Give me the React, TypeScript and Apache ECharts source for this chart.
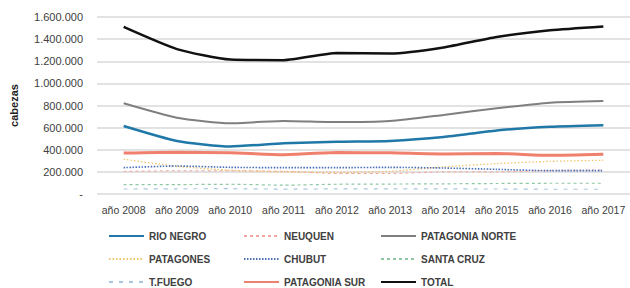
import React, { useEffect, useRef } from "react";
import * as echarts from "echarts";

const categories = ["año 2008", "año 2009", "año 2010", "año 2011", "año 2012", "año 2013", "año 2014", "año 2015", "año 2016", "año 2017"];
const rioNegro = [615000, 480000, 430000, 458000, 473000, 480000, 515000, 575000, 608000, 622000];
const neuquen = [205000, 210000, 210000, 205000, 185000, 185000, 200000, 200000, 212000, 218000];
const patagoniaNorte = [820000, 690000, 640000, 660000, 650000, 660000, 715000, 775000, 825000, 840000];
const patagones = [315000, 250000, 215000, 200000, 195000, 205000, 245000, 275000, 295000, 305000];
const chubut = [238000, 253000, 241000, 238000, 238000, 241000, 235000, 223000, 211000, 211000];
const santaCruz = [85000, 85000, 88000, 80000, 88000, 90000, 92000, 95000, 97000, 97000];
const tFuego = [45000, 47000, 48000, 44000, 46000, 47000, 46000, 45000, 43000, 43000];
const patagoniaSur = [370000, 378000, 372000, 355000, 375000, 372000, 362000, 366000, 350000, 360000];
const total = [1510000, 1310000, 1215000, 1210000, 1275000, 1270000, 1325000, 1420000, 1480000, 1515000];
const yTicks = [0, 200000, 400000, 600000, 800000, 1000000, 1200000, 1400000, 1600000];

const font = "'Liberation Sans', Arial, sans-serif";

function fmt(v: number): string {
  if (v === 0) return "-";
  return String(v).replace(/\B(?=(\d{3})+(?!\d))/g, ".");
}

export default function App() {
  const ref = useRef<HTMLDivElement>(null);
  useEffect(() => {
    if (!ref.current) return;
    const chart = echarts.init(ref.current, undefined, { renderer: "svg" });
    const mk = (name: string, data: number[], color: string, width: number, type: any) => ({
      name,
      type: "line",
      data,
      smooth: 0.2,
      symbol: "none",
      lineStyle: { color, width, type },
      itemStyle: { color },
    });
    const legendBase = {
      orient: "vertical" as const,
      top: 231,
      itemWidth: 35,
      itemHeight: 10,
      itemGap: 13,
      itemStyle: { opacity: 0 },
      textStyle: { fontFamily: font, fontSize: 10, fontWeight: "bold" as const, color: "#404040" },
      padding: 0,
    };
    chart.setOption({
      animation: false,
      grid: { left: 95, right: -5, top: 17, bottom: 94 },
      xAxis: {
        type: "category",
        data: categories,
        boundaryGap: true,
        axisLine: { show: false },
        axisTick: { show: false },
        axisLabel: { fontFamily: font, fontSize: 10.5, color: "#404040", margin: 10, interval: 0 },
      },
      yAxis: {
        type: "value",
        min: yTicks[0],
        max: yTicks[yTicks.length - 1],
        interval: 200000,
        name: "cabezas",
        nameLocation: "middle",
        nameGap: 78,
        nameTextStyle: { fontFamily: font, fontSize: 11, fontWeight: "bold", color: "#222" },
        axisLabel: { fontFamily: font, fontSize: 11, color: "#404040", margin: 14, formatter: (v: number) => fmt(v) },
        splitLine: { lineStyle: { color: "#d9d9d9", width: 1.5 } },
        axisLine: { show: false },
        axisTick: { show: false },
      },
      legend: [
        { ...legendBase, left: 108, data: ["RIO NEGRO", "PATAGONES", "T.FUEGO"] },
        { ...legendBase, left: 243, data: ["NEUQUEN", "CHUBUT", "PATAGONIA SUR"] },
        { ...legendBase, left: 380, data: ["PATAGONIA NORTE", "SANTA CRUZ", "TOTAL"] },
      ],
      series: [
        mk("RIO NEGRO", rioNegro, "#1f78a8", 2.5, "solid"),
        mk("NEUQUEN", neuquen, "#f4a6a0", 1, [3, 3]),
        mk("PATAGONIA NORTE", patagoniaNorte, "#7f7f7f", 2, "solid"),
        mk("PATAGONES", patagones, "#f2c46a", 1.3, [1.5, 2]),
        mk("CHUBUT", chubut, "#4a6fb8", 1.6, [1.5, 1.5]),
        mk("SANTA CRUZ", santaCruz, "#8fc8a4", 1.2, [3, 3]),
        mk("T.FUEGO", tFuego, "#a9c6e0", 1.2, [4, 6]),
        mk("PATAGONIA SUR", patagoniaSur, "#f0806e", 3, "solid"),
        mk("TOTAL", total, "#111111", 2.5, "solid"),
      ],
    });
    return () => chart.dispose();
  }, []);
  return <div ref={ref} style={{ width: 630, height: 288, position: "absolute", left: 0, top: 0 }} />;
}
